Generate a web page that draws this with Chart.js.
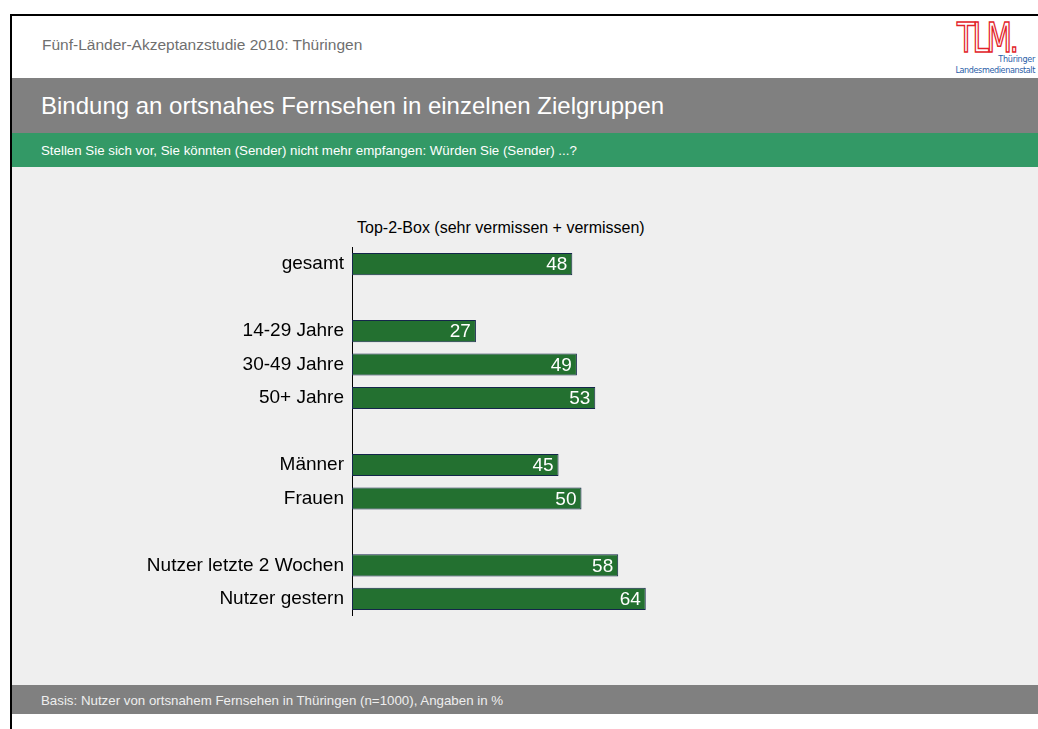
<!DOCTYPE html>
<html>
<head>
<meta charset="utf-8">
<script src="https://cdn.jsdelivr.net/npm/chart.js@4/dist/chart.umd.min.js"></script>
<style>
  html, body { margin: 0; padding: 0; background: #fff; }
  body { width: 1038px; height: 729px; position: relative; overflow: hidden; font-family: "Liberation Sans", Arial, sans-serif; }
  .abs { position: absolute; }
  #frameTop { left: 10px; top: 14px; width: 1040px; height: 2px; background: #000; }
  #frameLeft { left: 10px; top: 14px; width: 2px; height: 720px; background: #000; }
  #band1 { left: 12px; top: 78px; width: 1030px; height: 55px; background: #808080; }
  #band2 { left: 12px; top: 133px; width: 1030px; height: 34px; background: #339966; }
  #content { left: 12px; top: 167px; width: 1030px; height: 518px; background: #efefef; }
  #footer { left: 12px; top: 685px; width: 1030px; height: 29px; background: #808080; }
  .txt { white-space: nowrap; line-height: 1; }
  #head { left: 42px; top: 37px; font-size: 15.5px; color: #6f6f6f; }
  #title { left: 41px; top: 94px; font-size: 24px; color: #fff; }
  #sub { left: 41px; top: 144px; font-size: 13.3px; color: #fff; }
  #foot { left: 41px; top: 694px; font-size: 13.3px; color: #eee; }
  #boxTitle { left: 357px; top: 220px; font-size: 16px; color: #000; }
  #logoTLM { left: 957px; top: 18px; font-size: 40px; color: #fff; -webkit-text-stroke: 1.5px #e2232a; letter-spacing: -3px; font-family: "DejaVu Sans Condensed", "DejaVu Sans", sans-serif; transform: scaleX(0.82); transform-origin: left top; }
  #logo1 { right: 3px; top: 55px; font-size: 9px; color: #2a5ea8; font-family: "DejaVu Sans Condensed", sans-serif; letter-spacing: -0.3px; }
  #logo2 { right: 3px; top: 66px; font-size: 9px; color: #2a5ea8; font-family: "DejaVu Sans Condensed", sans-serif; letter-spacing: -0.4px; }
  #wrap { left: 0px; top: 228px; width: 811px; height: 407px; }
</style>
</head>
<body>
<div class="abs" id="frameTop"></div>
<div class="abs" id="frameLeft"></div>
<div class="abs" id="band1"></div>
<div class="abs" id="band2"></div>
<div class="abs" id="content"></div>
<div class="abs" id="footer"></div>
<div class="abs txt" id="head">Fünf-Länder-Akzeptanzstudie 2010: Thüringen</div>
<div class="abs txt" id="title">Bindung an ortsnahes Fernsehen in einzelnen Zielgruppen</div>
<div class="abs txt" id="sub">Stellen Sie sich vor, Sie könnten (Sender) nicht mehr empfangen: Würden Sie (Sender) ...?</div>
<div class="abs txt" id="foot">Basis: Nutzer von ortsnahem Fernsehen in Thüringen (n=1000), Angaben in %</div>
<div class="abs txt" id="boxTitle">Top-2-Box (sehr vermissen + vermissen)</div>
<div class="abs txt" id="logoTLM">TLM.</div>
<div class="abs txt" id="logo1">Thüringer</div>
<div class="abs txt" id="logo2">Landesmedienanstalt</div>
<div class="abs" id="wrap"><canvas id="chart"></canvas></div>
<script>
// Kategorien mit Leerzeilen als Abstand zwischen den Gruppen
const categories = [
  "gesamt", "",
  "14-29 Jahre", "30-49 Jahre", "50+ Jahre", "",
  "Männer", "Frauen", "",
  "Nutzer letzte 2 Wochen", "Nutzer gestern"
];
const values = [48, null, 27, 49, 53, null, 45, 50, null, 58, 64];
const AXIS_LEFT = 352;

// Werte weiß ans Balkenende schreiben
const valueLabels = {
  id: "valueLabels",
  afterDatasetsDraw(chart) {
    const ctx = chart.ctx;
    const meta = chart.getDatasetMeta(0);
    ctx.save();
    ctx.font = '19px "Liberation Sans", Arial, sans-serif';
    ctx.fillStyle = "#ffffff";
    ctx.textAlign = "right";
    ctx.textBaseline = "middle";
    meta.data.forEach((bar, i) => {
      const v = values[i];
      if (v == null) return;
      ctx.fillText(String(v), bar.x - 5, bar.y + 1);
    });
    ctx.restore();
  },
};

new Chart(document.getElementById("chart"), {
  type: "bar",
  data: {
    labels: categories,
    datasets: [{
      data: values,
      backgroundColor: "#237030",
      borderColor: "#14264a",
      borderWidth: 1,
      borderSkipped: false,
      categoryPercentage: 1,
      barPercentage: 0.66,
    }],
  },
  options: {
    indexAxis: "y",
    responsive: true,
    maintainAspectRatio: false,
    animation: false,
    layout: { padding: 0 },
    plugins: {
      legend: { display: false },
      tooltip: { enabled: false },
    },
    scales: {
      x: { display: false, min: 0, max: 100 },
      y: {
        afterFit: (s) => { s.width = AXIS_LEFT; },
        grid: { display: false, drawTicks: false },
        border: { display: true, color: "#000", width: 1 },
        ticks: {
          color: "#000",
          padding: 8,
          font: { family: '"Liberation Sans", Arial, sans-serif', size: 19 },
        },
      },
    },
  },
  plugins: [valueLabels],
});
</script>
</body>
</html>
